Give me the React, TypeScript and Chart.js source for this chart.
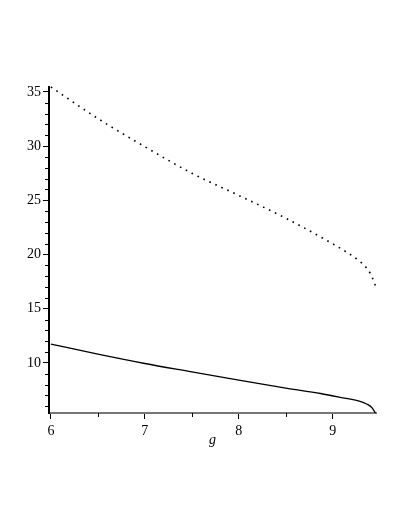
import React, { useEffect, useRef } from 'react';
import { Chart, registerables } from 'chart.js';

Chart.register(...registerables);

const upperG = [6.0, 6.5, 7.0, 7.5, 8.0, 8.5, 9.0, 9.15, 9.26, 9.36, 9.4, 9.43, 9.455];
const upperY = [35.46, 32.55, 29.95, 27.5, 25.45, 23.35, 20.98, 20.2, 19.55, 18.75, 18.24, 17.67, 17.1];

const lowerG = [6.0, 6.5, 7.0, 7.5, 8.0, 8.5, 8.87, 9.08, 9.29, 9.36, 9.415, 9.455];
const lowerY = [11.73, 10.8, 9.94, 9.17, 8.4, 7.67, 7.17, 6.82, 6.44, 6.2, 5.88, 5.37];

const xMajorTicks = [6, 7, 8, 9];
const xMinorTicks = [6.5, 7.5, 8.5];
const yMajorTicks = [10, 15, 20, 25, 30, 35];
const yMinorTicks = [6, 7, 8, 9, 11, 12, 13, 14, 16, 17, 18, 19, 21, 22, 23, 24, 26, 27, 28, 29, 31, 32, 33, 34];
const xTitle = 'g';

const X_MIN = 5.98;
const X_MAX = 9.46;
const Y_MIN = 5.37;
const Y_MAX = 35.46;

const minorTicksPlugin = {
  id: 'minorTicks',
  afterDraw(chart: any) {
    const ctx = chart.ctx;
    const xs = chart.scales.x;
    const ys = chart.scales.y;
    ctx.save();
    ctx.strokeStyle = '#000';
    ctx.lineWidth = 1;
    xMinorTicks.forEach((v) => {
      const px = Math.round(xs.getPixelForValue(v)) + 0.5;
      ctx.beginPath();
      ctx.moveTo(px, xs.top);
      ctx.lineTo(px, xs.top + 4);
      ctx.stroke();
    });
    yMinorTicks.forEach((v) => {
      const py = Math.round(ys.getPixelForValue(v)) + 0.5;
      ctx.beginPath();
      ctx.moveTo(ys.right - 4, py);
      ctx.lineTo(ys.right, py);
      ctx.stroke();
    });
    ctx.fillStyle = '#000';
    ctx.font = 'italic 14px "Liberation Serif"';
    ctx.textAlign = 'center';
    ctx.textBaseline = 'middle';
    ctx.fillText(xTitle, (chart.chartArea.left + chart.chartArea.right) / 2, xs.top + 27);
    ctx.restore();
  },
};

export default function App() {
  const ref = useRef<HTMLCanvasElement | null>(null);
  useEffect(() => {
    document.body.style.margin = '0';
    const canvas = ref.current!;
    const chart = new Chart(canvas, {
      type: 'scatter',
      data: {
        datasets: [
          {
            data: upperG.map((g, i) => ({ x: g, y: upperY[i] })),
            showLine: true,
            borderColor: '#000',
            borderWidth: 1.6,
            borderDash: [1.6, 5],
            pointRadius: 0,
            cubicInterpolationMode: 'monotone',
            clip: false,
          } as any,
          {
            data: lowerG.map((g, i) => ({ x: g, y: lowerY[i] })),
            showLine: true,
            borderColor: '#000',
            borderWidth: 1.3,
            pointRadius: 0,
            cubicInterpolationMode: 'monotone',
            clip: false,
          } as any,
        ],
      },
      options: {
        animation: false,
        responsive: false,
        layout: { padding: { left: 0, top: 87, right: 33, bottom: 66 } },
        plugins: { legend: { display: false }, tooltip: { enabled: false } },
        scales: {
          x: {
            type: 'linear',
            min: X_MIN,
            max: X_MAX,
            afterBuildTicks: (s: any) => {
              s.ticks = xMajorTicks.map((v) => ({ value: v }));
            },
            afterFit: (s: any) => {
              s.height = 50;
            },
            grid: { drawOnChartArea: false, drawTicks: true, tickLength: 6, tickColor: '#000' },
            border: { color: '#777', width: 2 },
            ticks: {
              color: '#000',
              padding: 4,
              font: { family: '"Liberation Serif"', size: 14 },
              callback: (v: any) => String(v),
            },
          },
          y: {
            type: 'linear',
            min: Y_MIN,
            max: Y_MAX,
            afterBuildTicks: (s: any) => {
              s.ticks = yMajorTicks.map((v) => ({ value: v }));
            },
            afterFit: (s: any) => {
              s.width = 49;
            },
            grid: { drawOnChartArea: false, drawTicks: true, tickLength: 6, tickColor: '#000' },
            border: { color: '#000', width: 2 },
            ticks: {
              color: '#000',
              padding: 2,
              font: { family: '"Liberation Serif"', size: 14 },
              callback: (v: any) => String(v),
            },
          },
        },
      },
      plugins: [minorTicksPlugin],
    });
    return () => chart.destroy();
  }, []);
  return (
    <div style={{ position: 'absolute', left: 0, top: 0, width: 409, height: 529 }}>
      <canvas ref={ref} width={409} height={529} style={{ width: 409, height: 529 }} />
    </div>
  );
}
